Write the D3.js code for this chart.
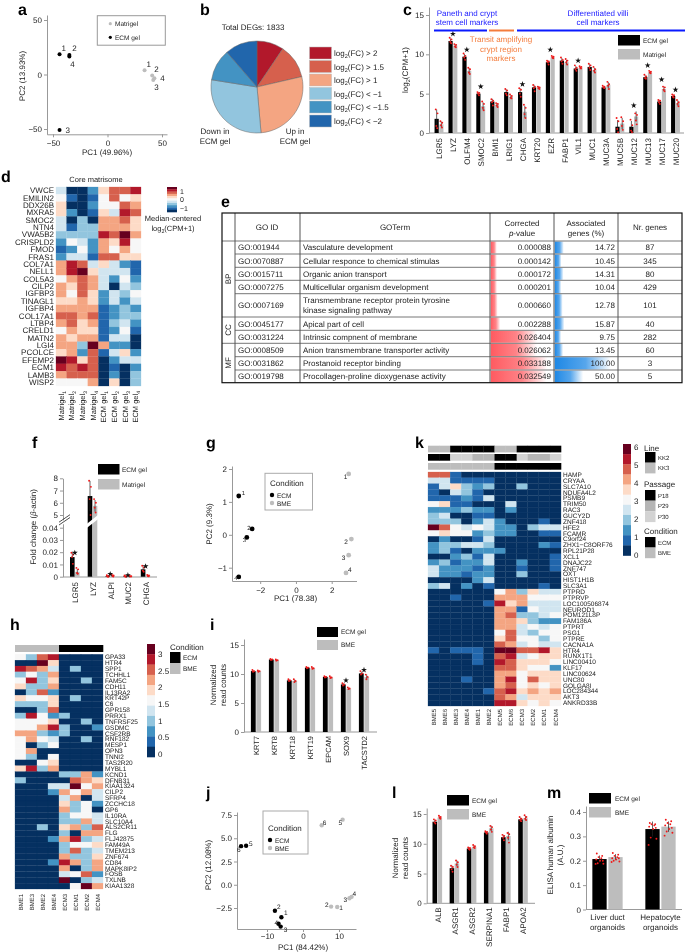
<!DOCTYPE html>
<html><head><meta charset="utf-8">
<script src="https://cdnjs.cloudflare.com/ajax/libs/d3/7.8.5/d3.min.js"></script>
<style>html,body{margin:0;padding:0;background:#fff}svg{display:block;font-family:"Liberation Sans",Arial,sans-serif;text-rendering:geometricPrecision;filter:blur(0.3px)}</style>
</head><body><svg id="fig" width="685" height="952"></svg>
<script>
// ---------- DATA ----------
// a
const aEcm=[[-44,18.5],[-35,18],[-44,-51],[-35,16.5]];
const aMat=[[34,3.8],[41,-1],[42,-5],[43,-3.5]];
const aIds=["1","2","3","4"];
// b
const pieLabels=["> 2","> 1.5","> 1","< −1","< −1.5","< −2"];
const pieCounts=[173,219,499,530,204,208];
// c
const cGenes=["LGR5","LYZ","OLFM4","SMOC2","BMI1","LRIG1","CHGA","KRT20","EZR","FABP1","VIL1","MUC1","MUC3A","MUC5B","MUC12","MUC13","MUC17","MUC20"];
const cEcm=[1.8,11.7,9.7,5.0,4.0,5.2,5.2,5.8,9.0,9.2,8.2,8.4,5.8,0.8,0.8,7.1,4.0,4.7];
const cMat=[1.1,11.1,7.9,3.4,3.6,4.6,2.7,5.8,9.6,9.0,8.3,8.0,6.1,1.2,2.1,7.7,5.6,3.8];
const cEcmReps=[[3.0,2.5,0.9,0.6],[12.1,11.9,11.6,11.4],[10.1,9.8,9.6,9.3],[5.2,5.1,5.0,4.8],[4.3,4.1,3.9,3.5],[5.6,5.4,5.0,4.8],[5.7,5.5,5.0,4.6],[6.1,5.9,5.7,5.3],[9.2,9.1,9.0,8.7],[9.6,9.3,9.1,8.8],[8.6,8.3,8.1,7.9],[8.8,8.6,8.3,8.0],[6.0,5.9,5.8,5.7],[1.9,1.5,0.5,0.1],[1.7,1.0,0.3,0.1],[7.4,7.2,7.0,6.9],[4.2,4.1,3.9,3.7],[4.9,4.8,4.6,4.5]];
const cMatReps=[[1.5,1.3,1.0,0.7],[11.3,11.2,11.0,10.9],[8.3,8.1,7.7,7.5],[4.0,3.7,3.2,2.9],[3.8,3.7,3.5,3.3],[4.9,4.7,4.5,4.4],[3.6,3.2,2.4,1.9],[5.9,5.8,5.7,5.6],[9.8,9.7,9.6,9.5],[9.4,9.2,9.0,8.7],[8.5,8.4,8.3,8.2],[8.4,8.1,7.9,7.7],[6.5,6.2,6.0,5.6],[2.0,1.5,0.9,0.4],[2.5,2.3,1.6,1.1],[7.9,7.8,7.7,7.6],[5.9,5.8,5.5,5.3],[4.2,3.9,3.7,3.4]];
const cStarGenes=["LYZ","OLFM4","SMOC2","CHGA","EZR","VIL1","MUC12","MUC13","MUC17","MUC20"];
const cStarVals=[12.6,10.6,5.9,6.2,10.6,9.2,3.5,8.6,6.8,5.5];
// d  (colour level 0-a per cell)
const dGenes=["VWCE","EMILIN2","DDX26B","MXRA5","SMOC2","NTN4","VWA5B2","CRISPLD2","FMOD","FRAS1","COL7A1","NELL1","COL5A3","CILP2","IGFBP3","TINAGL1","IGFBP4","COL17A1","LTBP4","CRELD1","MATN2","LGI4","PCOLCE","EFEMP2","ECM1","LAMB3","WISP2"];
const dCols=["Matrigel|1","Matrigel|2","Matrigel|3","Matrigel|4","ECM gel|1","ECM gel|2","ECM gel|3","ECM gel|4"];
const dLevels=["40026889","51015856","60025587","62016498","40307786","41337776","333398a7","25427695","12527575","24418866","79846421","79a64441","57874252","76874043","75862435","66762424","77771232","88781233","78671342","57661251","76771440","773a7220","67281462","a9680244","98980102","78880203","55570603"];
// e
const eIds=["GO:001944","GO:0070887","GO:0015711","GO:0007275","GO:0007169","GO:0045177","GO:0031224","GO:0008509","GO:0031862","GO:0019798"];
const eTerms=[["Vasculature development"],["Cellular responce to chemical stimulas"],["Organic anion transport"],["Multicellular organism development"],["Transmembrane receptor protein tyrosine","kinase signaling pathway"],["Apical part of cell"],["Intrinsic compnent of membrane"],["Anion transmembrane transporter activity"],["Prostanoid receptor binding"],["Procollagen-proline dioxygenase activity"]];
const ePvals=["0.000088","0.000142","0.000172","0.000201","0.000660","0.002288","0.026404","0.026062","0.033188","0.032549"];
const ePct=["14.72","10.45","14.31","10.04","12.78","15.87","9.75","13.45","100.00","50.00"];
const eNr=["87","345","80","429","101","40","282","60","3","5"];
// f
const fGenes=["LGR5","LYZ","ALPI","MUC2","CHGA"];
const fEcm=[0.016,6.55,0.0005,0.0004,0.006];
const fMat=[0.004,5.75,0.0008,0.0005,0.001];
const fEcmReps=[[0.0195,0.018,0.016,0.0105],[7.8,7.3,6.3,5.0],[0.0012,0.0006,0.0002,0],[0.001,0.0004,0.0002,0],[0.009,0.0075,0.005,0.004]];
const fMatReps=[[0.0072,0.006,0.003,0.0025],[6.3,6.0,5.6,5.2],[0.0018,0.001,0.0006,0.0002],[0.0008,0.0005,0.0003,0.0001],[0.0015,0.001,0.0006,0.0003]];
const fStarGenes=["LGR5","ALPI","MUC2","CHGA"];
const fStarVals=[0.0195,0.0022,0.0013,0.0085];
// g
const gEcm=[[-3.2,1.18],[-2.45,0.18],[-2.75,-0.08],[-3.2,-1.28]];
const gBme=[[2.95,1.85],[3.1,-0.13],[2.95,-0.62],[2.8,-1.16]];
const gIds=["1","2","3","4"];
// h
const hCols=["BME1","BME3","BME2","BME4","ECM3","ECM1","ECM2","ECM4"];
const hGenes=["GPA33","HTR4","SPP1","TCHHL1","FAM5C","CDH11","IL13RA2","KRT42P","C6","GPR158","PRRX1","TNFRSF25","GSDMC","CSF2RB","RNF182","MESP1","OPN3","TNNI2","TAS2R20","MYBL1","KCND1","DFNB31","KIAA1324","CILP2","SFRP4","ZCCHC18","GP6","IL10RA","SLC10A4","ALS2CR11","FLG","FLJ42875","FAM49A","TMEM213","ZNF674","CD84","MAPK8IP2","FOSB","TXLNB","KIAA1328"];
const hLevels=["53890000","00a60000","98740300","35370000","59360030","63370000","03820000","65560300","33360000","00380000","39523000","55560030","55793002","77323000","57540030","50350000","57000000","53050000","00560000","69370000","00003372","30000876","00044a57","00027574","00004704","00006352","00007350","00003554","00003374","00306738","00003077","00027934","00003556","00003834","00007336","00029737","00007037","00004582","0000a034","000005a7"];
// i
const iGenes=["KRT7","KRT8","KRT18","KRT19","EPCAM","SOX9","TACSTD2"];
const iEcm=[10.5,12.5,8.9,11.1,9.5,8.2,10.1];
const iBme=[10.5,12.4,8.8,11.0,9.4,7.5,9.5];
const iEcmReps=[[10.7,10.5,10.4],[12.6,12.5,12.4],[9.1,8.9,8.8],[11.2,11.1,11.0],[9.6,9.5,9.4],[8.4,8.2,8.0],[10.5,10.1,9.9]];
const iBmeReps=[[10.6,10.5,10.4],[12.5,12.4,12.3],[9.1,8.8,8.6],[11.2,11.0,10.9],[9.6,9.4,9.3],[7.7,7.5,7.4],[9.9,9.5,9.1]];
const iStarGenes=["SOX9","TACSTD2"];
const iStarVals=[8.9,10.7];
// j
const jEcm=[[-6,-3.5],[-7.8,-2.8],[-6.2,-4.5],[-6.8,-4.2],[-15.8,4.2],[-17.2,4.15]];
const jBme=[[9.5,-2.4],[7.8,-2.35],[12.9,-1.45],[13.5,-1.3],[11,7],[5.2,6.4]];
const jIds=["1","2","3","4","5","6"];
// k
const kCols=["BME5","BME6","BME3","BME4","BME1","BME2","ECM5","ECM6","ECM3","ECM2","ECM1","ECM4"];
const kGenes=["HAMP","CRYAA","SLC7A10","NDUFA4L2","PSMB9","TRIM50","RAC3","GUCY2D","ZNF418","HFE2","FCAMR","C9orf24","ZHX1−C8ORF76","RPL21P28","XCL1","DNAJC22","ZNF747","OXT","HIST1H1B","SLC3A1","PTPRD","PTPRVP","LOC100506874","NEUROD1","POM121L8P","FAM186A","PTPRT","PSG1","PTPRE","CACNA1A","HTR4","RUNX1T1","LINC00410","KLF17","LINC00624","UNC80","GOLGA8I","LOC284344","AKT3","ANKRD33B"];
const kLevels=["881000000000","441111000000","146323003000","104310000000","111214000000","561100040000","222322020000","340011000000","333024200010","a85454220344","565523220011","020014000000","233443000021","231022200000","002314000001","231224002001","422212001001","422122003000","000024000000","340201000010","000000573644","001000777555","000001967444","000000771544","000000783345","000000776322","000000774545","000000584355","000000685535","000000874544","101110aa8896","000010894566","000010986665","000000886552","000000775666","000100795866","000000785656","000001896767","000000874666","000000996565"];
const kLine=["KK3","KK3","KK2","KK2","KK2","KK2","KK3","KK3","KK2","KK2","KK2","KK2"];
const kPassage=["P18","P18","P30","P30","P29","P29","P18","P18","P30","P29","P29","P30"];
const kCondition=["BME","BME","BME","BME","BME","BME","ECM","ECM","ECM","ECM","ECM","ECM"];
// l
const lGenes=["ALB","ASGR1","ASGR2","SERPINA1","FABP1","APOA2"];
const lEcm=[13.7,5.9,9.2,11.9,11.1,14.1];
const lBme=[14.4,6.7,9.5,12.6,11.3,14.3];
const lEcmReps=[[14.1,13.9,13.6,13.4],[6.3,6.1,5.7,5.3],[9.4,9.3,9.1,9.0],[12.1,12.0,11.9,11.7],[11.5,11.3,11.0,10.6],[14.5,14.2,14.0,13.8]];
const lBmeReps=[[14.7,14.5,14.4,14.2],[7.2,6.9,6.5,6.1],[9.8,9.6,9.4,9.3],[13.0,12.8,12.4,12.0],[11.8,11.6,11.0,10.2],[14.8,14.5,14.2,14.0]];
// m
const mGroups=["Liver duct|organoids","Hepatocyte|organoids"];
const mEcm=[0.207,0.33];
const mBme=[0.215,0.34];
const mEcmReps=[[0.23,0.22,0.215,0.21,0.205,0.2,0.2,0.19,0.188,0.187],[0.355,0.35,0.35,0.345,0.34,0.335,0.33,0.295,0.29,0.265]];
const mBmeReps=[[0.232,0.225,0.22,0.215,0.21,0.21,0.205,0.2,0.197,0.195],[0.368,0.362,0.355,0.35,0.345,0.335,0.33,0.32,0.315,0.303]];

// ---------- HELPERS ----------
const svg=d3.select("#fig");
const INK="#222", AXIS="#999", BLK="#000", GREY="#bdbdbd", RED="#f01818";
const rdbu=["#053061","#2166ac","#4393c3","#92c5de","#d1e5f0","#f7f7f7","#fddbc7","#f4a582","#d6604d","#b2182b","#67001f"];
const levelColor=d3.scaleOrdinal(d3.range(11),rdbu);
function T(x,y,s,size=8,o={}){
  const t=svg.append("text").attr("x",x).attr("y",y).text(s).attr("font-size",size).attr("fill",o.fill||INK)
    .attr("text-anchor",o.anchor||"start");
  if(o.weight)t.attr("font-weight",o.weight);
  if(o.rot)t.attr("transform",`rotate(-90 ${x} ${y})`);
  return t;
}
function P(x,y,s){T(x,y,s,16,{fill:"#000",weight:"bold"});}
function subT(x,y,a,sub,b,size,o={}){
  const t=T(x,y,"",size,o);
  t.append("tspan").text(a);
  t.append("tspan").text(sub).attr("font-size",size*0.7).attr("dy",size*0.3);
  if(b)t.append("tspan").text(b).attr("dy",-size*0.3);
  return t;
}
function styleAxis(g,size){
  g.attr("font-family",null).attr("font-size",size);
  g.selectAll("path,line").attr("stroke",AXIS).attr("stroke-width",1);
  g.selectAll("text").attr("fill",INK);
}
const ext=(s,a,b)=>d3.scaleLinear().domain([s.invert(a),s.invert(b)]).range([a,b]);
function leftAxis(px,y,vals,fmt,size=8){
  const ax=d3.axisLeft(y).tickValues(vals).tickSize(3).tickSizeOuter(0).tickPadding(2).tickFormat(fmt||d3.format("~g"));
  const g=svg.append("g").attr("transform",`translate(${px},0)`).call(ax);styleAxis(g,size);return g;
}
function bottomAxisLin(py,x,vals,size=8,pad=3){
  const g=svg.append("g").attr("transform",`translate(0,${py})`).call(d3.axisBottom(x).tickValues(vals).tickFormat(d3.format("~g")).tickSize(3).tickSizeOuter(0).tickPadding(pad));
  styleAxis(g,size);return g;
}
function catAxis(py,x,x0,x1,size,pad=4){
  svg.append("line").attr("x1",x0).attr("x2",x1).attr("y1",py).attr("y2",py).attr("stroke",AXIS);
  const g=svg.append("g").attr("transform",`translate(0,${py})`).call(d3.axisBottom(x).tickSize(0));
  g.select(".domain").remove();styleAxis(g,size);
  g.selectAll("text").attr("transform","rotate(-90)").attr("x",-pad).attr("y",0).attr("dy","0.35em").attr("text-anchor","end");
}
function stars(x,y,genes,vals,size=11){
  svg.append("g").selectAll("path").data(genes).join("path")
    .attr("d",d3.symbol(d3.symbolStar,size)).attr("fill","#111")
    .attr("transform",(d,i)=>`translate(${x(d)},${y(vals[i])})`);
}
const jitter=[-0.9,0.9,-0.3,0.6,-1.1,1.1,0.2,-0.6,1.3,-1.3];
function bars(x,y,cats,vals,reps,side,w,gap,color,spread=1){
  const g=svg.append("g");
  const left=c=>side<0?x(c)-w-gap/2:x(c)+gap/2;
  g.selectAll("rect").data(cats).join("rect").attr("x",left).attr("width",w)
    .attr("y",(c,i)=>y(vals[i])).attr("height",(c,i)=>y(0)-y(vals[i])).attr("fill",color);
  cats.forEach((c,i)=>{
    const sd=d3.deviation(reps[i]),cx=left(c)+w/2;
    g.append("line").attr("x1",cx).attr("x2",cx).attr("y1",y(Math.max(0,vals[i]-sd))).attr("y2",y(vals[i]+sd))
      .attr("stroke","#222").attr("stroke-width",0.7);
    g.selectAll(null).data(reps[i]).join("circle").attr("cx",(d,k)=>cx+jitter[k%10]*spread).attr("cy",d=>y(d)).attr("r",0.95).attr("fill",RED);
  });
}
function swatchLegend(x,ys,h,w,labels,colors,tx,size=6.5){
  labels.forEach((l,i)=>{
    svg.append("rect").attr("x",x).attr("y",ys[i]).attr("width",w).attr("height",h).attr("fill",colors[i]);
    T(tx,ys[i]+h/2+2.3,l,size);
  });
}
function heatmap(cols,rows,levels,x0,x1,y0,y1,size){
  const x=d3.scaleBand(cols,[x0,x1]),y=d3.scaleBand(rows,[y0,y1]);
  rows.forEach((r,ri)=>{
    svg.append("g").selectAll("rect").data(levels[ri].split("").map(c=>parseInt(c,16))).join("rect")
      .attr("x",(d,i)=>x(cols[i])).attr("y",y(r)).attr("width",x.bandwidth()).attr("height",y.bandwidth())
      .attr("fill",d=>levelColor(d)).attr("stroke",d=>levelColor(d)).attr("stroke-width",0.25);
  });
  return {x,y};
}
function colorbar(x0,x1,y0,y1){
  const y=d3.scaleBand(d3.range(10,-1,-1),[y0,y1]);
  svg.append("g").selectAll("rect").data(y.domain()).join("rect").attr("x",x0).attr("width",x1-x0)
    .attr("y",d=>y(d)).attr("height",y.bandwidth()+0.3).attr("fill",d=>levelColor(d));
  return y;
}
function scatter(pts,x,y,color,r,ids,offs,size){
  const g=svg.append("g");
  g.selectAll("circle").data(pts).join("circle").attr("cx",d=>x(d[0])).attr("cy",d=>y(d[1])).attr("r",r).attr("fill",color);
  g.selectAll("text").data(pts).join("text").attr("x",(d,i)=>x(d[0])+offs[i][0]).attr("y",(d,i)=>y(d[1])+offs[i][1])
    .text((d,i)=>ids[i]).attr("font-size",size).attr("fill",INK);
}

// ---------- PANEL LABELS ----------
P(18,14.6,"a");P(200,14.6,"b");P(403,14.6,"c");P(1,182,"d");P(221,207,"e");P(32,448,"f");P(206,448,"g");
P(10,630,"h");P(210,630,"i");P(206,798,"j");P(415,448,"k");P(392,798,"l");P(547,798,"m");

// ---------- a ----------
{
  const xb=d3.scaleLinear([-50,50],[53,162]),yb=d3.scaleLinear([-50,50],[129,20]);
  const x=ext(xb,47,167),y=ext(yb,134.3,15);
  leftAxis(47,y,[-50,0,50]);bottomAxisLin(134.3,x,[-50,0,50]);
  T(107,155,"PC1 (49.96%)",8,{anchor:"middle"});
  T(25,76,"PC2 (13.93%)",8,{anchor:"middle",rot:true});
  scatter(aEcm,x,y,"#000",2,aIds,[[2,-3],[3,-4],[6,3],[1,10]],8);
  scatter(aMat,x,y,GREY,2,aIds,[[2,-3],[2,-4],[1,10.5],[6,3]],8);
  svg.append("rect").attr("x",97.3).attr("y",15.7).attr("width",68).attr("height",29.5).attr("fill","none").attr("stroke","#999");
  svg.append("circle").attr("cx",110.3).attr("cy",23.7).attr("r",1.6).attr("fill",GREY);
  svg.append("circle").attr("cx",110.3).attr("cy",37.3).attr("r",1.6).attr("fill","#000");
  T(115,26,"Matrigel",6.5);T(115,40,"ECM gel",6.5);
}
// ---------- b ----------
{
  const cols=[rdbu[9],rdbu[8],rdbu[7],rdbu[3],rdbu[2],rdbu[1]];
  const arcs=d3.pie().sort(null)(pieCounts);
  const arc=d3.arc().innerRadius(0).outerRadius(46);
  svg.append("g").attr("transform","translate(257,87)").selectAll("path").data(arcs).join("path")
    .attr("d",arc).attr("fill",(d,i)=>cols[i]).attr("stroke","#666").attr("stroke-width",0.5);
  T(253,30,"Total DEGs: 1833",8,{anchor:"middle"});
  T(215,134,"Down in",8,{anchor:"middle"});T(215,144,"ECM gel",8,{anchor:"middle"});
  T(295,134,"Up in",8,{anchor:"middle"});T(295,144,"ECM gel",8,{anchor:"middle"});
  const ys=[47,60.5,74,87.5,101,115];
  pieLabels.forEach((l,i)=>{
    svg.append("rect").attr("x",309.5).attr("y",ys[i]).attr("width",22).attr("height",12).attr("fill",cols[i]).attr("stroke","#bbb").attr("stroke-width",0.5);
    subT(334,ys[i]+9,"log","2","(FC) "+l,8);
  });
}
// ---------- c ----------
{
  const y=d3.scaleLinear([0,15],[133,15]);
  const yA=ext(y,133,7);
  leftAxis(429,yA,[0,5,10,15]);
  const x=d3.scalePoint(cGenes,[439,675.5]);
  catAxis(133,x,429,684,8,5);
  bars(x,y,cGenes,cEcm,cEcmReps,-1,4.2,0.5,BLK);
  bars(x,y,cGenes,cMat,cMatReps,1,4.2,0.5,GREY);
  stars(x,y,cStarGenes,cStarVals);
  subT(408,70,"log","2","(CPM+1)",8,{anchor:"middle",rot:true});
  const BLUE="#1a1aff",OR="#f47c3c";
  [[434,487,"#0a1aff"],[489,514,OR],[517,685,"#0a1aff"]].forEach(d=>svg.append("line").attr("x1",d[0]).attr("x2",d[1]).attr("y1",30.5).attr("y2",30.5).attr("stroke",d[2]).attr("stroke-width",2));
  T(467,15.5,"Paneth and crypt",8,{anchor:"middle",fill:BLUE});T(467,25,"stem cell markers",8,{anchor:"middle",fill:BLUE});
  T(501,42,"Transit amplifying",8,{anchor:"middle",fill:OR});T(501,51.5,"crypt region",8,{anchor:"middle",fill:OR});T(501,61,"markers",8,{anchor:"middle",fill:OR});
  T(598,15.5,"Differentiated villi",8,{anchor:"middle",fill:BLUE});T(598,25,"cell markers",8,{anchor:"middle",fill:BLUE});
  swatchLegend(618,[35,49],10.5,22,["ECM gel","Matrigel"],[BLK,GREY],643);
}
// ---------- d ----------
{
  const {x,y}=heatmap(dCols,dGenes,dLevels,56,141,187,386);
  const ay=svg.append("g").attr("transform","translate(56,0)").call(d3.axisLeft(y).tickSize(0).tickPadding(2));
  ay.select(".domain").remove();styleAxis(ay,8);
  T(96,182,"Core matrisome",7.5,{anchor:"middle"});
  dCols.forEach(c=>{
    const [a,b]=c.split("|");
    const t=T(x(c)+x.bandwidth()/2+2.5,391,"",7.5,{anchor:"end",rot:true});
    t.append("tspan").text(a);t.append("tspan").text(b).attr("font-size",5).attr("dy",2);
  });
  colorbar(167,177,187,212);
  T(180,194,"1",7);T(180,202,"0",7);T(180,211,"−1",7);
  T(173,221,"Median-centered",7.5,{anchor:"middle"});
  subT(173,231,"log","2","(CPM+1)",7.5,{anchor:"middle"});
}
// ---------- e ----------
{
  const edges=[222,235,300,490,554,618,682];
  const rowEdges=[241,254,267.3,280.3,293.7,317,330.3,343.3,356.7,370,382.7];
  const top=213;
  const defs=svg.append("defs");
  [["gr","#ff5a60"],["gb","#1e88e5"]].forEach(([id,c])=>{
    const g=defs.append("linearGradient").attr("id",id);
    g.append("stop").attr("offset","0%").attr("stop-color",c);
    g.append("stop").attr("offset","55%").attr("stop-color",c).attr("stop-opacity",0.75);
    g.append("stop").attr("offset","100%").attr("stop-color",c).attr("stop-opacity",0);
  });
  const pS=d3.scaleLinear([0,0.0332],[6,57]),aS=d3.scaleLinear([0,100],[1,56]);
  eIds.forEach((id,i)=>{
    const y0=rowEdges[i],y1=rowEdges[i+1],ym=(y0+y1)/2+2.9;
    svg.append("rect").attr("x",490.7).attr("y",y0+0.5).attr("height",y1-y0-1).attr("width",pS(+ePvals[i])).attr("fill","url(#gr)");
    svg.append("rect").attr("x",554.7).attr("y",y0+0.5).attr("height",y1-y0-1).attr("width",aS(+ePct[i])).attr("fill","url(#gb)");
    T(238,ym,id,8);
    if(eTerms[i].length>1){T(303,ym-4.8,eTerms[i][0],8);T(303,ym+4.8,eTerms[i][1],8);}
    else T(303,ym,eTerms[i][0],8);
    T(551,ym,ePvals[i],8,{anchor:"end"});
    T(615,ym,ePct[i],8,{anchor:"end"});
    T(650,ym,eNr[i],8,{anchor:"middle"});
  });
  const line=(a,b,c,d,col,w)=>svg.append("line").attr("x1",a).attr("x2",b).attr("y1",c).attr("y2",d).attr("stroke",col).attr("stroke-width",w);
  rowEdges.slice(0,-1).forEach((e,i)=>line(235,682,e,e,"#777",1));
  [241,317,343.3].forEach(e=>line(222,235,e,e,"#777",1));
  edges.slice(1,-1).forEach(e=>line(e,e,top,382.7,"#555",1));
  svg.append("rect").attr("x",222).attr("y",top).attr("width",460).attr("height",169.7).attr("fill","none").attr("stroke","#111").attr("stroke-width",1.2);
  T(267,230,"GO ID",8,{anchor:"middle"});T(395,230,"GOTerm",8,{anchor:"middle"});
  T(522,225.5,"Corrected",8,{anchor:"middle"});
  const pv=T(522,236,"",8,{anchor:"middle"});pv.append("tspan").text("p").attr("font-style","italic");pv.append("tspan").text("-value");
  T(586,225.5,"Associated",8,{anchor:"middle"});T(586,236,"genes (%)",8,{anchor:"middle"});
  T(650,230,"Nr. genes",8,{anchor:"middle"});
  T(231,279,"BP",8,{anchor:"middle",rot:true});T(231,330,"CC",8,{anchor:"middle",rot:true});T(231,363,"MF",8,{anchor:"middle",rot:true});
}
// ---------- f ----------
{
  const y=d3.scaleLinear([0,0.04,5,8],[576.7,527.7,515,478.3]);
  const x=d3.scalePoint(fGenes,[74.8,145.6]);
  const fmt=d=>d===0?"0":d<1?d.toFixed(2):d3.format("d")(d);
  leftAxis(63,y,[0,0.01,0.02,0.03,0.04,5,6,7,8],fmt);
  catAxis(577,x,63,157,8,5);
  bars(x,y,fGenes,fEcm,fEcmReps,-1,4.6,0.4,BLK);
  bars(x,y,fGenes,fMat,fMatReps,1,4.6,0.4,GREY);
  const c=x("LYZ"),x0=c-5.5,x1=c+5.5;
  svg.append("polygon").attr("points",[[x0,y(0.04)],[x1,y(0.04)-8.4],[x1,y(5)],[x0,y(5)+8.7]].join(" ")).attr("fill","#fff");
  const b=[[59,525],[70,517.5]];
  svg.append("polygon").attr("points","60,527 69,520 69,516 60,523").attr("fill","#fff");
  [0,2.8].forEach(d=>svg.append("line").attr("x1",b[0][0]).attr("x2",b[1][0]).attr("y1",b[0][1]-d).attr("y2",b[1][1]-d).attr("stroke","#222").attr("stroke-width",0.8));
  stars(x,y,fStarGenes,fStarVals);
  const t=T(36,527,"Fold change (",8,{anchor:"middle",rot:true});
  t.append("tspan").text("β").attr("font-style","italic");t.append("tspan").text("-actin)");
  swatchLegend(98,[464,479],10.5,21.5,["ECM gel","Matrigel"],[BLK,GREY],122);
}
// ---------- g ----------
{
  const xb=d3.scaleLinear([-2,2],[260.2,331.7]),yb=d3.scaleLinear([-1,2],[567.7,469]);
  const x=ext(xb,232,356.5),y=ext(yb,581,466);
  leftAxis(232,y,[-1,0,1,2]);bottomAxisLin(581,x,[-2,0,2]);
  T(295.5,601,"PC1 (78.38)",8,{anchor:"middle"});
  T(212,524,"PC2 (9.3%)",8,{anchor:"middle",rot:true});
  scatter(gEcm,x,y,"#000",2.4,gIds,[[3,-1],[-5,1.5],[-4,5],[-4.5,3]],6);
  scatter(gBme,x,y,GREY,2.4,gIds,[[-5,5],[-7,5],[-7,5],[2,-1]],6.5);
  svg.append("rect").attr("x",265).attr("y",473.3).attr("width",47.5).attr("height",36.7).attr("fill","#fff").attr("stroke","#aaa");
  T(270,485.5,"Condition",8);
  svg.append("circle").attr("cx",272).attr("cy",495).attr("r",2.2).attr("fill","#000");
  svg.append("circle").attr("cx",272).attr("cy",503).attr("r",2.2).attr("fill",GREY);
  T(277,497.5,"ECM",6.5);T(277,505.5,"BME",6.5);
}
// ---------- h ----------
{
  const {x,y}=heatmap(hCols,hGenes,hLevels,15,103,654.3,889);
  svg.append("g").selectAll("rect").data(hCols).join("rect").attr("x",d=>x(d)).attr("y",645).attr("width",x.bandwidth()+0.3).attr("height",7)
    .attr("fill",d=>d.startsWith("BME")?GREY:"#000");
  const ay=svg.append("g").attr("transform","translate(103,0)").call(d3.axisRight(y).tickSize(0).tickPadding(2));
  ay.select(".domain").remove();styleAxis(ay,6.5);
  const ax=svg.append("g").attr("transform","translate(0,889)").call(d3.axisBottom(x).tickSize(0));
  ax.select(".domain").remove();styleAxis(ax,6);
  ax.selectAll("text").attr("transform","rotate(-90)").attr("x",-5).attr("y",0).attr("dy","0.35em").attr("text-anchor","end");
  colorbar(147,155,644,757);
  const ct=d3.scaleLinear([0,3],[754,654]);
  const ca=svg.append("g").attr("transform","translate(155,0)").call(d3.axisRight(ct).tickValues([0,0.5,1,1.5,2,2.5,3]).tickFormat(d3.format("~g")).tickSize(0).tickPadding(3));
  ca.select(".domain").remove();styleAxis(ca,8);
  T(170,650,"Condition",8);
  swatchLegend(170,[652,663],11,10.5,["ECM","BME"],["#000",GREY],183,6.5);
}
// ---------- i ----------
{
  const y=d3.scaleLinear([0,15],[732,645]);
  leftAxis(244,ext(y,732,639),[0,5,10,15]);
  const x=d3.scalePoint(iGenes,[256,364]);
  catAxis(732,x,244,377,7.5,4);
  bars(x,y,iGenes,iEcm,iEcmReps,-1,4.8,0.6,BLK);
  bars(x,y,iGenes,iBme,iBmeReps,1,4.8,0.6,GREY);
  stars(x,y,iStarGenes,iStarVals);
  T(216,685,"Normalized",8,{anchor:"middle",rot:true});T(226,685,"read counts",8,{anchor:"middle",rot:true});
  swatchLegend(317,[627,640],10,21,["ECM gel","BME"],[BLK,GREY],341);
}
// ---------- j ----------
{
  const xb=d3.scaleLinear([-10,10],[267,339]),yb=d3.scaleLinear([-2.5,7.5],[908,815]);
  const x=ext(xb,237,356),y=ext(yb,929,812);
  leftAxis(237,y,[-2.5,0,2.5,5,7.5],d3.format(".1f"));bottomAxisLin(929,x,[-10,0,10],8,1.5);
  T(303,950,"PC1 (84.42%)",8,{anchor:"middle"});
  T(211,865,"PC2 (12.08%)",8,{anchor:"middle",rot:true});
  scatter(jEcm,x,y,"#000",2.2,jIds,[[2.5,-2],[2,-2],[3,5],[-4,1],[3,0],[-4,6]],6.5);
  scatter(jBme,x,y,GREY,2.2,jIds,[[2,3],[-6,0],[-6,4],[1,-1],[-4,5],[1,0]],6.5);
  svg.append("rect").attr("x",263).attr("y",811).attr("width",45).attr("height",43).attr("fill","#fff").attr("stroke","#aaa");
  T(268,831,"Condition",8);
  svg.append("circle").attr("cx",270).attr("cy",840).attr("r",2.2).attr("fill","#000");
  svg.append("circle").attr("cx",270).attr("cy",848).attr("r",2.2).attr("fill",GREY);
  T(275,842.5,"ECM",6.5);T(275,850.5,"BME",6.5);
}
// ---------- k ----------
{
  const {x,y}=heatmap(kCols,kGenes,kLevels,428,561,472,706);
  const PASS={P18:"#000",P29:"#b5b5b5",P30:"#d3d3d3"},LINE={KK2:"#000",KK3:GREY},COND={ECM:"#000",BME:GREY};
  const strip=(arr,map,y0)=>svg.append("g").selectAll("rect").data(arr).join("rect")
    .attr("x",(d,i)=>x(kCols[i])).attr("y",y0).attr("width",x.bandwidth()+0.3).attr("height",6.7).attr("fill",d=>map[d]);
  strip(kLine,LINE,445.7);strip(kPassage,PASS,454);strip(kCondition,COND,463);
  const ay=svg.append("g").attr("transform","translate(561,0)").call(d3.axisRight(y).tickSize(0).tickPadding(2));
  ay.select(".domain").remove();styleAxis(ay,6.5);
  const ax=svg.append("g").attr("transform","translate(0,706)").call(d3.axisBottom(x).tickSize(0));
  ax.select(".domain").remove();styleAxis(ax,6);
  ax.selectAll("text").attr("transform","rotate(-90)").attr("x",-3).attr("y",0).attr("dy","0.35em").attr("text-anchor","end");
  colorbar(623,631,444,555.5);
  const ct=d3.scaleLinear([0,6],[555,447]);
  const ca=svg.append("g").attr("transform","translate(631,0)").call(d3.axisRight(ct).tickValues(d3.range(7)).tickFormat(d3.format("d")).tickSize(0).tickPadding(3));
  ca.select(".domain").remove();styleAxis(ca,8);
  T(644,450.5,"Line",8);
  swatchLegend(645,[452,462.7],10.7,10.5,["KK2","KK3"],["#000",GREY],658,6);
  T(644,487,"Passage",8);
  swatchLegend(645,[490,500.7,511.4],10.7,10.5,["P18","P29","P30"],["#000","#b5b5b5","#d3d3d3"],658,6);
  T(644,534,"Condition",8);
  swatchLegend(645,[537,547.7],10.5,10.5,["ECM","BME"],["#000",GREY],658,6);
}
// ---------- l ----------
{
  const y=d3.scaleLinear([0,15],[903.3,814]);
  leftAxis(426.7,ext(y,903.3,808),[0,5,10,15]);
  const x=d3.scalePoint(lGenes,[437.3,523]);
  catAxis(903.3,x,426.7,535,8,4);
  bars(x,y,lGenes,lEcm,lEcmReps,-1,4.6,0.4,BLK);
  bars(x,y,lGenes,lBme,lBmeReps,1,4.6,0.4,GREY);
  T(398,858,"Normalized",8,{anchor:"middle",rot:true});T(408,858,"read counts",8,{anchor:"middle",rot:true});
  swatchLegend(447,[795,809],10.5,22,["ECM gel","BME"],[BLK,GREY],472);
}
// ---------- m ----------
{
  const y=d3.scaleLinear([0,0.4],[909.5,812]);
  leftAxis(586,ext(y,909.5,806),[0,0.1,0.2,0.3,0.4],d=>d===0?"0":d.toFixed(1));
  const x=d3.scalePoint(mGroups,[607.5,660.5]);
  svg.append("line").attr("x1",586).attr("x2",682).attr("y1",909.5).attr("y2",909.5).attr("stroke",AXIS);
  bars(x,y,mGroups,mEcm,mEcmReps,-1,14.3,1.7,BLK,3);
  bars(x,y,mGroups,mBme,mBmeReps,1,14.3,1.7,GREY,3);
  mGroups.forEach(g=>{const [a,b]=g.split("|");T(x(g),919.5,a,8,{anchor:"middle"});T(x(g),929.5,b,8,{anchor:"middle"});});
  T(553,855,"ELISA human albumin",8,{anchor:"middle",rot:true});T(563,855,"(A.U.)",8,{anchor:"middle",rot:true});
  swatchLegend(589,[793,807],10.5,22,["ECM gel","BME"],[BLK,GREY],615);
}
</script></body></html>
